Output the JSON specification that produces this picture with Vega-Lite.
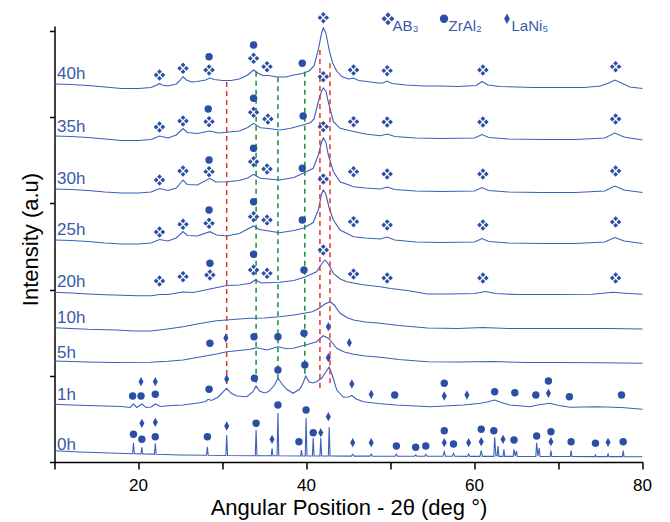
{
"$schema": "https://vega.github.io/schema/vega-lite/v6.json",
"width": 588, "height": 436,
"autosize": {"type": "none"},
"padding": {"left": 54.5, "top": 26, "right": 27.5, "bottom": 60},
"background": "white",
"config": {"view": {"stroke": null}, "font": "Liberation Sans"},
"datasets": {
"traces": [
{"s":"40h","x":10,"y":378},{"s":"40h","x":12,"y":377.5},{"s":"40h","x":14,"y":376.5},{"s":"40h","x":16,"y":375},{"s":"40h","x":18,"y":373.5},{"s":"40h","x":20,"y":373.5},{"s":"40h","x":21.5,"y":374.5},{"s":"40h","x":22.2,"y":377},{"s":"40h","x":22.5,"y":378.5},{"s":"40h","x":22.8,"y":377},{"s":"40h","x":23.5,"y":376},{"s":"40h","x":24.5,"y":378},{"s":"40h","x":25.0,"y":382},{"s":"40h","x":25.3,"y":385.5},{"s":"40h","x":25.7,"y":382},{"s":"40h","x":26.3,"y":380},{"s":"40h","x":27.0,"y":380.5},{"s":"40h","x":28.0,"y":382},{"s":"40h","x":28.5,"y":384},{"s":"40h","x":29.0,"y":382.5},{"s":"40h","x":30.0,"y":381.5},{"s":"40h","x":31.0,"y":381.5},{"s":"40h","x":32.0,"y":383},{"s":"40h","x":33.0,"y":387},{"s":"40h","x":33.7,"y":392},{"s":"40h","x":34.2,"y":389},{"s":"40h","x":34.8,"y":386.5},{"s":"40h","x":35.5,"y":386.5},{"s":"40h","x":36.5,"y":385},{"s":"40h","x":37.5,"y":385},{"s":"40h","x":38.5,"y":387},{"s":"40h","x":39.5,"y":388.5},{"s":"40h","x":40.3,"y":391},{"s":"40h","x":40.9,"y":396},{"s":"40h","x":41.4,"y":412},{"s":"40h","x":41.8,"y":429},{"s":"40h","x":42.0,"y":434},{"s":"40h","x":42.3,"y":429},{"s":"40h","x":42.7,"y":412},{"s":"40h","x":43.1,"y":399},{"s":"40h","x":43.6,"y":391},{"s":"40h","x":44.2,"y":385.5},{"s":"40h","x":45.0,"y":383},{"s":"40h","x":45.6,"y":384},{"s":"40h","x":46.2,"y":381.5},{"s":"40h","x":47.2,"y":380.5},{"s":"40h","x":48.5,"y":379},{"s":"40h","x":49.1,"y":379},{"s":"40h","x":49.6,"y":381},{"s":"40h","x":50.2,"y":378.5},{"s":"40h","x":51.8,"y":377},{"s":"40h","x":54,"y":376},{"s":"40h","x":56,"y":376},{"s":"40h","x":58,"y":375.5},{"s":"40h","x":60.2,"y":376.5},{"s":"40h","x":60.9,"y":380.5},{"s":"40h","x":61.6,"y":377},{"s":"40h","x":63,"y":375.5},{"s":"40h","x":65,"y":375},{"s":"40h","x":67,"y":374.5},{"s":"40h","x":69,"y":374.5},{"s":"40h","x":71,"y":374.5},{"s":"40h","x":73,"y":374.5},{"s":"40h","x":75,"y":376},{"s":"40h","x":76.0,"y":379},{"s":"40h","x":76.7,"y":382},{"s":"40h","x":77.5,"y":379},{"s":"40h","x":78.5,"y":375},{"s":"40h","x":80,"y":373.5},

{"s":"35h","x":10,"y":326},{"s":"35h","x":12,"y":325.5},{"s":"35h","x":14,"y":324.5},{"s":"35h","x":16,"y":323},{"s":"35h","x":18,"y":321.5},{"s":"35h","x":20,"y":321.5},{"s":"35h","x":21.5,"y":322.5},{"s":"35h","x":22.5,"y":326},{"s":"35h","x":23.5,"y":324},{"s":"35h","x":24.5,"y":327},{"s":"35h","x":25.3,"y":333.5},{"s":"35h","x":25.8,"y":329.5},{"s":"35h","x":27,"y":328.5},{"s":"35h","x":28.5,"y":331},{"s":"35h","x":29.5,"y":329},{"s":"35h","x":30.5,"y":329.7},{"s":"35h","x":32,"y":331},{"s":"35h","x":33.0,"y":334.5},{"s":"35h","x":33.7,"y":338.7},{"s":"35h","x":34.5,"y":334.3},{"s":"35h","x":35.5,"y":333.5},{"s":"35h","x":36.8,"y":332},{"s":"35h","x":38,"y":333.5},{"s":"35h","x":39.6,"y":337},{"s":"35h","x":40.5,"y":339.5},{"s":"35h","x":40.9,"y":343},{"s":"35h","x":41.4,"y":360},{"s":"35h","x":41.8,"y":371},{"s":"35h","x":42.0,"y":374},{"s":"35h","x":42.3,"y":371},{"s":"35h","x":42.6,"y":360},{"s":"35h","x":43.2,"y":340.3},{"s":"35h","x":44.0,"y":333.7},{"s":"35h","x":45.6,"y":330.5},{"s":"35h","x":47,"y":328},{"s":"35h","x":48.8,"y":326.3},{"s":"35h","x":49.6,"y":328},{"s":"35h","x":50.5,"y":325.5},{"s":"35h","x":53,"y":324},{"s":"35h","x":56,"y":323.5},{"s":"35h","x":60,"y":324},{"s":"35h","x":60.9,"y":327.5},{"s":"35h","x":61.7,"y":324.5},{"s":"35h","x":64,"y":323},{"s":"35h","x":68,"y":322.5},{"s":"35h","x":72,"y":322.5},{"s":"35h","x":75.5,"y":324},{"s":"35h","x":76.7,"y":329},{"s":"35h","x":77.8,"y":325},{"s":"35h","x":80,"y":322},

{"s":"30h","x":10,"y":273},{"s":"30h","x":12,"y":272.5},{"s":"30h","x":14,"y":271.5},{"s":"30h","x":16,"y":270},{"s":"30h","x":18,"y":269},{"s":"30h","x":20,"y":269},{"s":"30h","x":21.5,"y":270},{"s":"30h","x":22.5,"y":273.5},{"s":"30h","x":23.5,"y":271.5},{"s":"30h","x":24.5,"y":274},{"s":"30h","x":25.3,"y":282},{"s":"30h","x":25.8,"y":277.5},{"s":"30h","x":27,"y":277},{"s":"30h","x":28.5,"y":283.7},{"s":"30h","x":29.2,"y":280},{"s":"30h","x":30.5,"y":280.3},{"s":"30h","x":32,"y":281.5},{"s":"30h","x":33.0,"y":284},{"s":"30h","x":33.7,"y":287.7},{"s":"30h","x":34.5,"y":283.7},{"s":"30h","x":36.8,"y":282},{"s":"30h","x":38.5,"y":284.5},{"s":"30h","x":39.6,"y":288.7},{"s":"30h","x":40.8,"y":293.7},{"s":"30h","x":41.4,"y":307},{"s":"30h","x":41.8,"y":320},{"s":"30h","x":42.0,"y":324},{"s":"30h","x":42.3,"y":320},{"s":"30h","x":42.6,"y":307},{"s":"30h","x":43.2,"y":290.3},{"s":"30h","x":44.0,"y":280.3},{"s":"30h","x":45.6,"y":275.3},{"s":"30h","x":47,"y":274},{"s":"30h","x":48.8,"y":273},{"s":"30h","x":49.6,"y":275},{"s":"30h","x":50.5,"y":272.5},{"s":"30h","x":53,"y":271},{"s":"30h","x":56,"y":270.5},{"s":"30h","x":60,"y":271},{"s":"30h","x":60.9,"y":274.5},{"s":"30h","x":61.7,"y":271.5},{"s":"30h","x":64,"y":270},{"s":"30h","x":68,"y":269.5},{"s":"30h","x":72,"y":269.5},{"s":"30h","x":75.5,"y":271},{"s":"30h","x":76.7,"y":276},{"s":"30h","x":77.8,"y":272},{"s":"30h","x":80,"y":269.5},

{"s":"25h","x":10,"y":222},{"s":"25h","x":12,"y":221.5},{"s":"25h","x":14,"y":220.5},{"s":"25h","x":16,"y":219},{"s":"25h","x":18,"y":218},{"s":"25h","x":20,"y":218},{"s":"25h","x":21.5,"y":219},{"s":"25h","x":22.5,"y":222.5},{"s":"25h","x":23.5,"y":221},{"s":"25h","x":24.5,"y":224},{"s":"25h","x":25.3,"y":230.5},{"s":"25h","x":25.8,"y":226.5},{"s":"25h","x":27,"y":226},{"s":"25h","x":28.5,"y":230.3},{"s":"25h","x":29.3,"y":227},{"s":"25h","x":30.5,"y":226},{"s":"25h","x":32,"y":228.5},{"s":"25h","x":33.7,"y":236},{"s":"25h","x":34.4,"y":232.5},{"s":"25h","x":36.8,"y":229.3},{"s":"25h","x":38.5,"y":231.5},{"s":"25h","x":39.6,"y":233.7},{"s":"25h","x":40.8,"y":239.5},{"s":"25h","x":41.4,"y":252},{"s":"25h","x":41.8,"y":268},{"s":"25h","x":42.0,"y":272},{"s":"25h","x":42.3,"y":268},{"s":"25h","x":42.7,"y":254},{"s":"25h","x":43.2,"y":242},{"s":"25h","x":44.0,"y":232},{"s":"25h","x":45.6,"y":225.3},{"s":"25h","x":47,"y":224},{"s":"25h","x":48.8,"y":223},{"s":"25h","x":49.6,"y":225},{"s":"25h","x":50.5,"y":222},{"s":"25h","x":53,"y":220},{"s":"25h","x":56,"y":219.5},{"s":"25h","x":60,"y":220},{"s":"25h","x":60.9,"y":223.5},{"s":"25h","x":61.7,"y":220.5},{"s":"25h","x":64,"y":219},{"s":"25h","x":68,"y":218.5},{"s":"25h","x":72,"y":218.5},{"s":"25h","x":75.5,"y":220},{"s":"25h","x":76.7,"y":224.5},{"s":"25h","x":77.8,"y":221},{"s":"25h","x":80,"y":218.5},

{"s":"20h","x":10,"y":169.7},{"s":"20h","x":12,"y":169},{"s":"20h","x":14,"y":168},{"s":"20h","x":16,"y":167.2},{"s":"20h","x":18,"y":166.7},{"s":"20h","x":20,"y":166.3},{"s":"20h","x":21.5,"y":166.3},{"s":"20h","x":22.5,"y":167.5},{"s":"20h","x":23.5,"y":167.5},{"s":"20h","x":25.3,"y":170},{"s":"20h","x":26.5,"y":169.5},{"s":"20h","x":28.5,"y":173},{"s":"20h","x":30.5,"y":176.5},{"s":"20h","x":32,"y":177},{"s":"20h","x":33.3,"y":178.7},{"s":"20h","x":33.9,"y":182},{"s":"20h","x":34.6,"y":179},{"s":"20h","x":36.8,"y":179.7},{"s":"20h","x":38.5,"y":181.5},{"s":"20h","x":39.9,"y":185.3},{"s":"20h","x":41.2,"y":190.3},{"s":"20h","x":41.8,"y":198},{"s":"20h","x":42.2,"y":202},{"s":"20h","x":42.6,"y":198},{"s":"20h","x":43.2,"y":188.7},{"s":"20h","x":44.0,"y":183},{"s":"20h","x":44.8,"y":180.3},{"s":"20h","x":46.5,"y":177.5},{"s":"20h","x":48.8,"y":175.3},{"s":"20h","x":50,"y":173.5},{"s":"20h","x":52,"y":171.5},{"s":"20h","x":54.4,"y":168},{"s":"20h","x":57,"y":168},{"s":"20h","x":60,"y":168.5},{"s":"20h","x":61.3,"y":170.5},{"s":"20h","x":62.5,"y":168.5},{"s":"20h","x":65,"y":167.5},{"s":"20h","x":70,"y":167.5},{"s":"20h","x":74,"y":167.7},{"s":"20h","x":76.5,"y":169.7},{"s":"20h","x":77.5,"y":169},{"s":"20h","x":80,"y":167.7},

{"s":"10h","x":10,"y":134.3},{"s":"10h","x":12,"y":133.5},{"s":"10h","x":14,"y":132.7},{"s":"10h","x":17.4,"y":132},{"s":"10h","x":19.5,"y":131},{"s":"10h","x":21.4,"y":131},{"s":"10h","x":23,"y":132.5},{"s":"10h","x":25.3,"y":135.3},{"s":"10h","x":27.3,"y":138.5},{"s":"10h","x":29.3,"y":141.3},{"s":"10h","x":30.5,"y":142},{"s":"10h","x":32,"y":143},{"s":"10h","x":33.3,"y":143.7},{"s":"10h","x":35,"y":144},{"s":"10h","x":36.8,"y":145.3},{"s":"10h","x":38.5,"y":147},{"s":"10h","x":40.7,"y":150.3},{"s":"10h","x":41.5,"y":153.7},{"s":"10h","x":42.2,"y":158},{"s":"10h","x":42.8,"y":160.3},{"s":"10h","x":43.3,"y":157},{"s":"10h","x":44.0,"y":148.7},{"s":"10h","x":44.8,"y":144.5},{"s":"10h","x":45.6,"y":142},{"s":"10h","x":47,"y":140},{"s":"10h","x":48.8,"y":138.7},{"s":"10h","x":51,"y":136.5},{"s":"10h","x":54.4,"y":134},{"s":"10h","x":58,"y":133.5},{"s":"10h","x":61,"y":134.5},{"s":"10h","x":64,"y":133.5},{"s":"10h","x":68,"y":133.5},{"s":"10h","x":72,"y":133.5},{"s":"10h","x":76,"y":133.5},{"s":"10h","x":80,"y":133},

{"s":"5h","x":10,"y":101},{"s":"5h","x":12,"y":100.5},{"s":"5h","x":14,"y":100},{"s":"5h","x":17,"y":99.5},{"s":"5h","x":21.4,"y":99.7},{"s":"5h","x":23.5,"y":100.7},{"s":"5h","x":25.3,"y":102},{"s":"5h","x":27.3,"y":105},{"s":"5h","x":29.3,"y":108},{"s":"5h","x":30.5,"y":110.3},{"s":"5h","x":32,"y":111.5},{"s":"5h","x":33.3,"y":112.7},{"s":"5h","x":34.1,"y":114.3},{"s":"5h","x":35.3,"y":112},{"s":"5h","x":36.6,"y":115.3},{"s":"5h","x":37.5,"y":113.5},{"s":"5h","x":38.4,"y":113.7},{"s":"5h","x":39.9,"y":117},{"s":"5h","x":41.2,"y":120.3},{"s":"5h","x":41.7,"y":124},{"s":"5h","x":42.0,"y":126.3},{"s":"5h","x":42.6,"y":123.7},{"s":"5h","x":43.1,"y":119},{"s":"5h","x":43.6,"y":113.7},{"s":"5h","x":44.5,"y":110},{"s":"5h","x":45.6,"y":107.7},{"s":"5h","x":47,"y":106},{"s":"5h","x":48.8,"y":104.7},{"s":"5h","x":51,"y":102.5},{"s":"5h","x":54.4,"y":100.3},{"s":"5h","x":58,"y":100},{"s":"5h","x":62,"y":100.5},{"s":"5h","x":66,"y":99.5},{"s":"5h","x":70,"y":99.5},{"s":"5h","x":75,"y":99.2},{"s":"5h","x":80,"y":98.7},

{"s":"1h","x":10,"y":57.7},{"s":"1h","x":12,"y":57},{"s":"1h","x":14,"y":56.5},{"s":"1h","x":16,"y":56},{"s":"1h","x":18,"y":55.5},{"s":"1h","x":19.0,"y":54.5},{"s":"1h","x":19.4,"y":58},{"s":"1h","x":19.8,"y":54.5},{"s":"1h","x":20.4,"y":58},{"s":"1h","x":20.9,"y":54.5},{"s":"1h","x":21.5,"y":55},{"s":"1h","x":22.0,"y":58},{"s":"1h","x":22.6,"y":55.5},{"s":"1h","x":24,"y":56.5},{"s":"1h","x":25.3,"y":57},{"s":"1h","x":27.3,"y":59.3},{"s":"1h","x":28.0,"y":60.5},{"s":"1h","x":28.3,"y":62.7},{"s":"1h","x":28.7,"y":61.5},{"s":"1h","x":29.5,"y":65},{"s":"1h","x":30.1,"y":70.3},{"s":"1h","x":30.5,"y":73.7},{"s":"1h","x":31.0,"y":69},{"s":"1h","x":31.7,"y":66},{"s":"1h","x":32.9,"y":65.3},{"s":"1h","x":33.6,"y":70},{"s":"1h","x":34.0,"y":76},{"s":"1h","x":34.4,"y":71},{"s":"1h","x":35.0,"y":69},{"s":"1h","x":35.5,"y":70.5},{"s":"1h","x":36.2,"y":77},{"s":"1h","x":36.6,"y":84},{"s":"1h","x":37.0,"y":79},{"s":"1h","x":37.6,"y":73},{"s":"1h","x":38.4,"y":68.7},{"s":"1h","x":39.2,"y":73},{"s":"1h","x":39.6,"y":79},{"s":"1h","x":39.9,"y":86},{"s":"1h","x":40.3,"y":80},{"s":"1h","x":40.8,"y":79},{"s":"1h","x":41.2,"y":80.3},{"s":"1h","x":41.8,"y":83.7},{"s":"1h","x":42.3,"y":90},{"s":"1h","x":42.7,"y":95},{"s":"1h","x":43.1,"y":86},{"s":"1h","x":43.6,"y":72},{"s":"1h","x":44.4,"y":64.7},{"s":"1h","x":45.0,"y":65},{"s":"1h","x":45.4,"y":66.5},{"s":"1h","x":45.9,"y":63},{"s":"1h","x":46.8,"y":60.3},{"s":"1h","x":48.5,"y":58.5},{"s":"1h","x":50.7,"y":57},{"s":"1h","x":54.7,"y":55.3},{"s":"1h","x":58.7,"y":57},{"s":"1h","x":60.7,"y":58.7},{"s":"1h","x":61.5,"y":60},{"s":"1h","x":62.4,"y":62},{"s":"1h","x":63.2,"y":59.5},{"s":"1h","x":64.2,"y":57},{"s":"1h","x":66.6,"y":55.3},{"s":"1h","x":67.5,"y":57},{"s":"1h","x":69.0,"y":58.7},{"s":"1h","x":70.0,"y":56.5},{"s":"1h","x":71.4,"y":54.7},{"s":"1h","x":74.5,"y":55.3},{"s":"1h","x":77.5,"y":54.5},{"s":"1h","x":80,"y":52.7},

{"s":"0h","x":10,"y":11.3},{"s":"0h","x":13,"y":10},{"s":"0h","x":17.4,"y":8.7},{"s":"0h","x":19.3,"y":8.3},{"s":"0h","x":19.4,"y":19.3},{"s":"0h","x":19.5,"y":8.2},{"s":"0h","x":20.3,"y":8.1},{"s":"0h","x":20.4,"y":14.7},{"s":"0h","x":20.5,"y":8.0},{"s":"0h","x":21.9,"y":7.9},{"s":"0h","x":22.0,"y":18.7},{"s":"0h","x":22.1,"y":7.8},{"s":"0h","x":25,"y":7},{"s":"0h","x":28.1,"y":6.7},{"s":"0h","x":28.2,"y":15.3},{"s":"0h","x":28.3,"y":6.7},{"s":"0h","x":30.4,"y":6.5},{"s":"0h","x":30.5,"y":27},{"s":"0h","x":30.6,"y":6.5},{"s":"0h","x":33.9,"y":6.3},{"s":"0h","x":34.0,"y":32},{"s":"0h","x":34.1,"y":6.3},{"s":"0h","x":35.8,"y":6.2},{"s":"0h","x":35.9,"y":13.7},{"s":"0h","x":36.0,"y":6.2},{"s":"0h","x":36.5,"y":6.2},{"s":"0h","x":36.6,"y":49},{"s":"0h","x":36.7,"y":6.2},{"s":"0h","x":39.3,"y":6},{"s":"0h","x":39.4,"y":12},{"s":"0h","x":39.5,"y":6},{"s":"0h","x":39.85,"y":6},{"s":"0h","x":39.95,"y":44},{"s":"0h","x":40.05,"y":6},{"s":"0h","x":40.7,"y":6},{"s":"0h","x":40.8,"y":24},{"s":"0h","x":40.9,"y":6},{"s":"0h","x":41.6,"y":6},{"s":"0h","x":41.7,"y":24},{"s":"0h","x":41.8,"y":6},{"s":"0h","x":42.6,"y":6},{"s":"0h","x":42.7,"y":35},{"s":"0h","x":42.8,"y":6},{"s":"0h","x":45.35,"y":5.9},{"s":"0h","x":45.5,"y":7.7},{"s":"0h","x":45.65,"y":5.9},{"s":"0h","x":47.55,"y":5.9},{"s":"0h","x":47.7,"y":8},{"s":"0h","x":47.85,"y":5.9},{"s":"0h","x":50.55,"y":5.8},{"s":"0h","x":50.7,"y":8},{"s":"0h","x":50.85,"y":5.8},{"s":"0h","x":52.85,"y":5.8},{"s":"0h","x":53.0,"y":7},{"s":"0h","x":53.15,"y":5.8},{"s":"0h","x":54.05,"y":5.7},{"s":"0h","x":54.2,"y":7.7},{"s":"0h","x":54.35,"y":5.7},{"s":"0h","x":56.25,"y":5.7},{"s":"0h","x":56.4,"y":10.3},{"s":"0h","x":56.55,"y":5.7},{"s":"0h","x":57.35,"y":5.7},{"s":"0h","x":57.5,"y":8.7},{"s":"0h","x":57.65,"y":5.7},{"s":"0h","x":59.15,"y":5.6},{"s":"0h","x":59.3,"y":8},{"s":"0h","x":59.45,"y":5.6},{"s":"0h","x":60.65,"y":5.6},{"s":"0h","x":60.8,"y":11.3},{"s":"0h","x":60.95,"y":5.6},{"s":"0h","x":62.3,"y":5.6},{"s":"0h","x":62.4,"y":24.7},{"s":"0h","x":62.55,"y":6},{"s":"0h","x":62.7,"y":6.5},{"s":"0h","x":62.8,"y":16},{"s":"0h","x":62.9,"y":5.6},{"s":"0h","x":63.4,"y":5.6},{"s":"0h","x":63.5,"y":12.7},{"s":"0h","x":63.6,"y":5.6},{"s":"0h","x":64.6,"y":5.6},{"s":"0h","x":64.7,"y":12.7},{"s":"0h","x":64.85,"y":6},{"s":"0h","x":65.0,"y":11},{"s":"0h","x":65.1,"y":5.5},{"s":"0h","x":67.3,"y":5.5},{"s":"0h","x":67.4,"y":19.3},{"s":"0h","x":67.55,"y":6},{"s":"0h","x":67.7,"y":14},{"s":"0h","x":67.8,"y":5.5},{"s":"0h","x":69.0,"y":5.5},{"s":"0h","x":69.1,"y":11.3},{"s":"0h","x":69.2,"y":5.5},{"s":"0h","x":71.4,"y":5.5},{"s":"0h","x":71.5,"y":11.3},{"s":"0h","x":71.6,"y":5.5},{"s":"0h","x":74.3,"y":5.4},{"s":"0h","x":74.4,"y":7},{"s":"0h","x":74.5,"y":5.4},{"s":"0h","x":75.8,"y":5.4},{"s":"0h","x":75.9,"y":8},{"s":"0h","x":76.0,"y":5.4},{"s":"0h","x":77.6,"y":5.4},{"s":"0h","x":77.7,"y":11.3},{"s":"0h","x":77.8,"y":5.4},{"s":"0h","x":80,"y":5.3}
],
"refs": [
{"kind":"red","x":30.5,"y":380,"y2":74},
{"kind":"green","x":34.0,"y":390.3,"y2":76},
{"kind":"green","x":36.6,"y":384.7,"y2":84},
{"kind":"green","x":39.8,"y":390.3,"y2":86},
{"kind":"red","x":41.6,"y":412,"y2":72},
{"kind":"red","x":42.8,"y":398.7,"y2":79}
],
"xticklabels": [{"x":20,"y":0,"t":"20"},{"x":40,"y":0,"t":"40"},{"x":60,"y":0,"t":"60"},{"x":80,"y":0,"t":"80"}],
"markers": [
{"phase":"AB₃","x":22.5,"y":387},{"phase":"AB₃","x":25.3,"y":393.7},{"phase":"AB₃","x":28.4,"y":392},{"phase":"AB₃","x":33.7,"y":403.7},{"phase":"AB₃","x":35.3,"y":395.3},{"phase":"AB₃","x":42.0,"y":444.3},{"phase":"AB₃","x":45.6,"y":392},{"phase":"AB₃","x":49.6,"y":391.3},{"phase":"AB₃","x":61.0,"y":392},{"phase":"AB₃","x":76.8,"y":395.3},
{"phase":"ZrAl₂","x":28.4,"y":405.3},{"phase":"ZrAl₂","x":33.7,"y":417},{"phase":"ZrAl₂","x":39.5,"y":398.7},
{"phase":"AB₃","x":22.5,"y":335},{"phase":"AB₃","x":25.3,"y":341},{"phase":"AB₃","x":28.4,"y":340.3},{"phase":"AB₃","x":33.7,"y":349.7},{"phase":"AB₃","x":35.4,"y":343},{"phase":"AB₃","x":42.0,"y":385.3},{"phase":"AB₃","x":45.6,"y":340.3},{"phase":"AB₃","x":49.6,"y":340},{"phase":"AB₃","x":61.0,"y":340},{"phase":"AB₃","x":76.8,"y":343},
{"phase":"ZrAl₂","x":28.3,"y":353},{"phase":"ZrAl₂","x":33.7,"y":363.7},{"phase":"ZrAl₂","x":39.6,"y":346},
{"phase":"AB₃","x":22.5,"y":282},{"phase":"AB₃","x":25.3,"y":291},{"phase":"AB₃","x":28.4,"y":290.3},{"phase":"AB₃","x":33.7,"y":300.3},{"phase":"AB₃","x":35.3,"y":293},{"phase":"AB₃","x":42.0,"y":335.3},{"phase":"AB₃","x":45.6,"y":290.3},{"phase":"AB₃","x":49.6,"y":288},{"phase":"AB₃","x":61.0,"y":288},{"phase":"AB₃","x":76.8,"y":291},
{"phase":"ZrAl₂","x":28.4,"y":302},{"phase":"ZrAl₂","x":33.7,"y":313.7},{"phase":"ZrAl₂","x":39.5,"y":293.7},
{"phase":"AB₃","x":22.5,"y":230},{"phase":"AB₃","x":25.3,"y":237.7},{"phase":"AB₃","x":28.4,"y":238.7},{"phase":"AB₃","x":33.7,"y":245.3},{"phase":"AB₃","x":35.3,"y":242},{"phase":"AB₃","x":42.0,"y":283},{"phase":"AB₃","x":45.6,"y":240.3},{"phase":"AB₃","x":49.6,"y":237},{"phase":"AB₃","x":61.0,"y":237},{"phase":"AB₃","x":76.8,"y":240},
{"phase":"ZrAl₂","x":28.4,"y":252},{"phase":"ZrAl₂","x":33.7,"y":260.3},{"phase":"ZrAl₂","x":39.5,"y":242},
{"phase":"AB₃","x":22.5,"y":181},{"phase":"AB₃","x":25.3,"y":185.3},{"phase":"AB₃","x":28.5,"y":187},{"phase":"AB₃","x":33.7,"y":192},{"phase":"AB₃","x":35.3,"y":188.7},{"phase":"AB₃","x":42.0,"y":212},{"phase":"AB₃","x":45.6,"y":188},{"phase":"AB₃","x":49.6,"y":184},{"phase":"AB₃","x":61.0,"y":184},{"phase":"AB₃","x":76.8,"y":184},
{"phase":"ZrAl₂","x":28.5,"y":198.7},{"phase":"ZrAl₂","x":33.7,"y":207.7},{"phase":"ZrAl₂","x":39.7,"y":192},
{"phase":"ZrAl₂","x":28.5,"y":118.7},{"phase":"ZrAl₂","x":33.75,"y":125.3},{"phase":"ZrAl₂","x":36.6,"y":125.3},{"phase":"ZrAl₂","x":39.7,"y":128.7},
{"phase":"LaNi₅","x":30.4,"y":124},{"phase":"LaNi₅","x":42.6,"y":135.3},{"phase":"LaNi₅","x":45.1,"y":119.3},
{"phase":"ZrAl₂","x":19.3,"y":66},{"phase":"ZrAl₂","x":20.3,"y":66},{"phase":"ZrAl₂","x":22.0,"y":67.7},{"phase":"ZrAl₂","x":28.4,"y":72.7},{"phase":"ZrAl₂","x":33.8,"y":83.7},{"phase":"ZrAl₂","x":36.6,"y":92},{"phase":"ZrAl₂","x":39.8,"y":97},{"phase":"ZrAl₂","x":50.5,"y":67},{"phase":"ZrAl₂","x":56.4,"y":78.7},{"phase":"ZrAl₂","x":62.4,"y":70.3},{"phase":"ZrAl₂","x":64.8,"y":69.3},{"phase":"ZrAl₂","x":67.3,"y":67},{"phase":"ZrAl₂","x":68.8,"y":81},{"phase":"ZrAl₂","x":71.3,"y":65.3},{"phase":"ZrAl₂","x":77.5,"y":67},
{"phase":"LaNi₅","x":20.3,"y":80.3},{"phase":"LaNi₅","x":22.0,"y":80.3},{"phase":"LaNi₅","x":30.5,"y":83},{"phase":"LaNi₅","x":42.6,"y":104.3},{"phase":"LaNi₅","x":45.4,"y":78},{"phase":"LaNi₅","x":47.7,"y":67.7},{"phase":"LaNi₅","x":56.4,"y":66},{"phase":"LaNi₅","x":59.1,"y":67},{"phase":"LaNi₅","x":68.8,"y":68.7},
{"phase":"ZrAl₂","x":19.4,"y":27.7},{"phase":"ZrAl₂","x":20.4,"y":22.7},{"phase":"ZrAl₂","x":22.0,"y":25.3},{"phase":"ZrAl₂","x":28.2,"y":25.3},{"phase":"ZrAl₂","x":34.0,"y":38.7},{"phase":"ZrAl₂","x":36.6,"y":57},{"phase":"ZrAl₂","x":39.1,"y":20.3},{"phase":"ZrAl₂","x":39.95,"y":52},{"phase":"ZrAl₂","x":40.8,"y":29.3},{"phase":"ZrAl₂","x":50.7,"y":16},{"phase":"ZrAl₂","x":53.0,"y":14.7},{"phase":"ZrAl₂","x":54.2,"y":16},{"phase":"ZrAl₂","x":56.4,"y":31.3},{"phase":"ZrAl₂","x":57.5,"y":18},{"phase":"ZrAl₂","x":60.8,"y":32.7},{"phase":"ZrAl₂","x":62.3,"y":31.3},{"phase":"ZrAl₂","x":64.7,"y":22},{"phase":"ZrAl₂","x":67.4,"y":26},{"phase":"ZrAl₂","x":69.1,"y":30.3},{"phase":"ZrAl₂","x":71.5,"y":20.3},{"phase":"ZrAl₂","x":74.4,"y":18.7},{"phase":"ZrAl₂","x":77.7,"y":20.3},
{"phase":"LaNi₅","x":20.4,"y":38.7},{"phase":"LaNi₅","x":22.0,"y":39.7},{"phase":"LaNi₅","x":30.5,"y":36},{"phase":"LaNi₅","x":35.9,"y":22.7},{"phase":"LaNi₅","x":41.7,"y":29.3},{"phase":"LaNi₅","x":42.6,"y":45.3},{"phase":"LaNi₅","x":45.5,"y":19.3},{"phase":"LaNi₅","x":47.7,"y":19.3},{"phase":"LaNi₅","x":56.4,"y":19.3},{"phase":"LaNi₅","x":59.3,"y":19.3},{"phase":"LaNi₅","x":60.8,"y":20.3},{"phase":"LaNi₅","x":63.4,"y":22.7},{"phase":"LaNi₅","x":69.1,"y":20.3},{"phase":"LaNi₅","x":75.9,"y":19.7}
],
"labels": [
{"label":"40h","x":10.3,"y":382.7},{"label":"35h","x":10.3,"y":329.7},{"label":"30h","x":10.3,"y":278},{"label":"25h","x":10.3,"y":227},{"label":"20h","x":10.3,"y":174.7},{"label":"10h","x":10.3,"y":139.3},{"label":"5h","x":10.3,"y":103.7},{"label":"1h","x":10.3,"y":62},{"label":"0h","x":10.3,"y":12}
]
},
"encoding": {
"x": {"field":"x","type":"quantitative","scale":{"domain":[10,80],"nice":false,"zero":false},
 "axis":{"values":[10,20,30,40,50,60,70,80],"labels":false,"title":"Angular Position - 2θ (deg °)","grid":false,"tickSize":7,"titleFontSize":22,"titleFontWeight":"normal","titleColor":"black","titleBaseline":"alphabetic","titleY":52,"domainColor":"black","tickColor":"black","domainWidth":1.5,"tickWidth":1.5,"titleFont":"Liberation Sans"}},
"y": {"field":"y","type":"quantitative","scale":{"domain":[0,436],"nice":false,"zero":false},
 "axis":{"values":[0,86,172,259,345,431],"labels":false,"title":"Intensity (a.u)","grid":false,"tickSize":5,"titleFontSize":22,"titleFontWeight":"normal","titleColor":"black","titleAngle":-90,"titleBaseline":"alphabetic","titleAlign":"center","titleX":-17,"titleY":213,"domainColor":"black","tickColor":"black","domainWidth":1.5,"tickWidth":1.5,"titleFont":"Liberation Sans"}}
},
"layer": [
{"data":{"name":"traces"},"mark":{"type":"line","strokeWidth":1.1,"color":"#3d5fb8","interpolate":"linear"},
 "encoding":{"detail":{"field":"s","type":"nominal"}}},
{"data":{"name":"refs"},"mark":{"type":"rule","strokeDash":[5,4],"strokeWidth":1.5},
 "encoding":{"y2":{"field":"y2"},"color":{"field":"kind","type":"nominal","scale":{"domain":["red","green"],"range":["#e3342f","#1e8c3a"]},"legend":null}}},
{"data":{"name":"markers"},"mark":{"type":"point","filled":true,"opacity":1,"size":55,"color":"#2b4ea6","strokeWidth":0},
 "encoding":{"shape":{"field":"phase","type":"nominal","scale":{"domain":["AB₃","ZrAl₂","LaNi₅"],"range":["M0,-1.55L0.65,-0.9L0,-0.25L-0.65,-0.9Z M1.55,0L0.9,0.65L0.25,0L0.9,-0.65Z M0,1.55L-0.65,0.9L0,0.25L0.65,0.9Z M-1.55,0L-0.9,-0.65L-0.25,0L-0.9,0.65Z","circle","M0,-1.25L0.68,0L0,1.25L-0.68,0Z"]},
 "legend":{"orient":"none","legendX":326,"legendY":-15,"direction":"horizontal","title":null,"padding":0,"labelFontSize":15,"labelFont":"Liberation Sans","labelColor":"#3a5aa8","labelBaseline":"top","labelOffset":-3,"columnPadding":17,"symbolSize":70,"symbolFillColor":"#2b4ea6","symbolStrokeColor":"#2b4ea6","symbolStrokeWidth":0}}}},
{"data":{"name":"labels"},"mark":{"type":"text","align":"left","baseline":"alphabetic","fontSize":17,"color":"#3a5aa8","font":"Liberation Sans"},
 "encoding":{"text":{"field":"label"}}},
{"data":{"name":"xticklabels"},"mark":{"type":"text","align":"center","baseline":"top","dy":16,"fontSize":17,"color":"black","font":"Liberation Sans"},
 "encoding":{"text":{"field":"t"}}}
]
}
